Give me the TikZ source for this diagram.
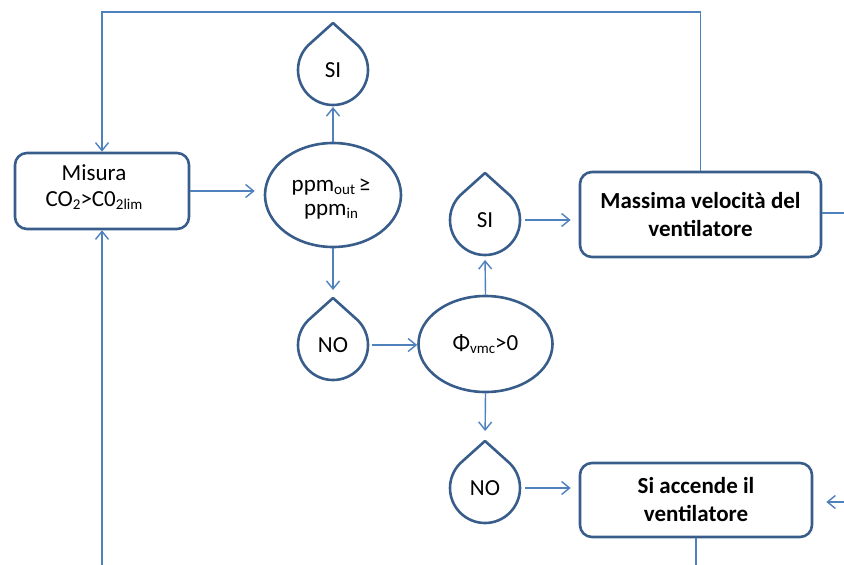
\documentclass[tikz,border=0pt]{standalone}
\usepackage{fontspec}
\setmainfont{Carlito}
\usetikzlibrary{arrows.meta,shapes.geometric,calc}
\definecolor{connblue}{HTML}{4F81BD}
\definecolor{edgeblue}{HTML}{385D8A}
% lowered small text used for the indices
\newcommand\lowsub[1]{\raisebox{-3pt}{\fontsize{15}{15}\selectfont #1}}
\begin{document}
\begin{tikzpicture}[x=1pt,y=1pt,
  font=\fontsize{23}{28}\selectfont,
  conn/.style={draw=connblue, line width=1.4pt},
  arr/.style={conn, -{Straight Barb[length=8pt,width=13pt]}},
  box/.style={draw=edgeblue, line width=2.6pt, rounded corners=12pt, align=center, inner sep=0pt},
  oval/.style={ellipse, draw=edgeblue, line width=2.6pt, align=center, inner sep=0pt},
  drop/.style={circle, minimum size=70pt, inner sep=0pt, outer sep=0pt},
  dropline/.style={draw=edgeblue, line width=2.6pt, line join=round}]
\useasboundingbox (0,0) rectangle (844,-565);

% process boxes
\node[box, minimum width=174pt, minimum height=76pt] (mis) at (102,-191) {};
\node[align=center, inner sep=0pt] (mistext) at (94,-187)
  {Misura\\[-2pt]CO\lowsub{2}>C0\lowsub{2lim}};
\node[box, minimum width=241pt, minimum height=85pt, font=\fontsize{23}{28}\selectfont\bfseries] (mass) at (700.5,-214.5)
  {Massima velocità del\\ventilatore};
\node[box, minimum width=232pt, minimum height=74pt, font=\fontsize{23}{28}\selectfont\bfseries] (acc) at (696,-500)
  {Si accende il\\ventilatore};

% decisions
\node[oval, minimum width=136pt, minimum height=104pt] (ppm) at (333,-195) {};
\node[align=center, inner sep=0pt] (ppmtext) at (331,-199)
  {ppm\lowsub{out}\,≥\\[-4pt]ppm\lowsub{in}};
\node[oval, minimum width=134pt, minimum height=96pt] (phi) at (485.5,-344)
  {Φ\lowsub{vmc}>0};

% answer drops
\node[drop] (siA) at (333,-70) {SI};
\node[drop] (noA) at (333,-345) {NO};
\node[drop] (siB) at (485,-220) {SI};
\node[drop] (noB) at (485,-488) {NO};
\foreach \d in {siA,noA,siB,noB}
  \draw[dropline] ($(\d.center)+(0,47)$) -- (\d.135)
    arc[start angle=135, end angle=405, radius=35] -- cycle;

% connectors
\draw[arr, shorten >=9pt] (mis.east) -- (mis.east -| ppm.west);
\draw[arr, shorten >=2pt] (ppm.north) -- (siA.south);
\draw[arr, shorten >=8pt] (ppm.south) -- ($(noA.center)+(0,47)$);
\draw[arr, shorten <=4pt] (noA.east) -- (noA.east -| phi.west);
\draw[arr, shorten >=5pt] (phi.north) -- (siB.south);
\draw[arr, shorten >=10pt] (phi.south) -- ($(noB.center)+(0,47)$);
\draw[arr, shorten <=5pt, shorten >=8pt] (siB.east) -- (siB.east -| mass.west);
\draw[arr, shorten <=5pt, shorten >=8pt] (noB.east) -- (noB.east -| acc.west);

% feedback loops
\coordinate (topy) at (0,-12);
\coordinate (boty) at (0,-565.2);
\draw[arr] (mass.north) -- (mass.north |- topy) -| (mis.north);
\draw[arr] (acc.south) -- (acc.south |- boty) -| (mis.south);

% lines leaving / entering at the right
\coordinate (outR) at (844,-213);
\coordinate (inR) at (844,-502);
\draw[conn] (mass.east |- outR) -- (outR);
\draw[arr, shorten >=13pt] (inR) -- (inR -| acc.east);
\end{tikzpicture}
\end{document}
